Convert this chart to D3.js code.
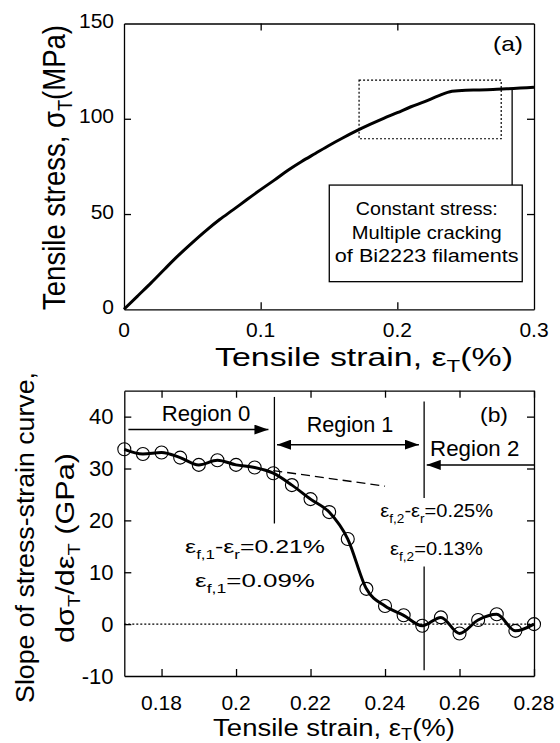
<!DOCTYPE html>
<html>
<head>
<meta charset="utf-8">
<script src="https://cdn.jsdelivr.net/npm/d3@7"></script>
<style>
  body { margin: 0; background: #fff; }
  svg { display: block; }
  text { font-family: "Liberation Sans", Arial, Helvetica, sans-serif; fill: #000; }
</style>
</head>
<body>
<svg id="fig" width="560" height="743"></svg>
<script>
// ---- (a) tensile stress–strain curve ----
const strainA = [0.00, 0.01, 0.02, 0.03, 0.04, 0.05, 0.06, 0.07, 0.08, 0.09, 0.10,
                 0.11, 0.12, 0.13, 0.14, 0.15, 0.16, 0.17, 0.18, 0.19, 0.20,
                 0.21, 0.22, 0.23, 0.24, 0.25, 0.26, 0.27, 0.28, 0.29, 0.30];
const stressA = [0, 7.0, 14.0, 21.3, 28.4, 35.0, 41.3, 47.1, 52.3, 57.6, 62.8,
                 67.8, 73.0, 77.6, 81.8, 86.0, 89.9, 93.6, 97.0, 100.2, 103.2,
                 106.3, 109.0, 112.0, 114.4, 115.0, 115.1, 115.3, 115.7, 116.1, 116.5];
const ticksAx = [0, 0.1, 0.2, 0.3];
const ticksAy = [0, 50, 100, 150];
const tickLabelsAx = ["0", "0.1", "0.2", "0.3"];
// dotted window enlarged in (b)  [strain0, strain1, stress0, stress1]
const windowA = [0.172, 0.276, 89.5, 120.3];
// call-out box [strain0, strain1, stress0, stress1] and its leader line [strain, stressTop]
const noteBoxA = [0.1502, 0.2914, 14.5, 65.2];
const leaderA = [0.284, 115.9];
const noteLinesA = ["Constant stress:", "Multiple cracking", "of Bi2223 filaments"];

// ---- (b) slope of the stress–strain curve ----
const strainB = [0.170, 0.175, 0.180, 0.185, 0.190, 0.195, 0.200, 0.205, 0.210, 0.215,
                 0.220, 0.225, 0.230, 0.235, 0.240, 0.245, 0.250, 0.255, 0.260, 0.265,
                 0.270, 0.275, 0.280];
const slopeB  = [33.7, 32.8, 33.1, 32.1, 30.7, 31.6, 30.7, 30.2, 29.1, 26.8,
                 24.1, 21.6, 16.4, 6.8, 3.5, 1.7, -0.3, 1.3, -1.8, 0.8,
                 1.9, -1.3, 0.0];
const ticksBx = [0.18, 0.20, 0.22, 0.24, 0.26, 0.28];
const tickLabelsBx = ["0.18", "0.2", "0.22", "0.24", "0.26", "0.28"];
const ticksBy = [-10, 0, 10, 20, 30, 40];
// extrapolated initial slope (dashed)
const trendB = [[0.210, 29.6], [0.240, 26.6]];
// region boundaries: [strain, [[top, bottom], ...segments]]
const boundB = [
  [0.2103, [[43.8, 19.4]]],
  [0.2505, [[42.9, 24.3], [11.1, -8.9]]]
];
// region arrows: [from, to, level, heads]
const arrowsB = [
  [0.1711, 0.2087, 37.5, "end"],
  [0.2110, 0.2491, 34.6, "both"],
  [0.2800, 0.2512, 30.7, "end"]
];

const svg = d3.select("#fig");
const stroke = "#000";

// helper: text made of plain/subscript runs, fitted to a given run length
function label(parent, runs, o) {
  const g = parent.append("g")
    .attr("transform", `translate(${o.x},${o.y})` + (o.rot ? " rotate(-90)" : ""));
  const inner = g.append("g");
  const t = inner.append("text")
    .attr("text-anchor", o.anchor || "middle")
    .attr("font-size", o.size);
  const sub = o.size * (o.subRatio || 0.66), shift = o.size * (o.shift || 0.24);
  let lowered = false;
  runs.forEach(r => {
    const isSub = Array.isArray(r);
    const s = isSub ? r[0] : r;
    const ts = t.append("tspan").text(s);
    if (isSub) {
      ts.attr("font-size", sub);
      if (!lowered) ts.attr("dy", shift);
      lowered = true;
    } else if (lowered) {
      ts.attr("dy", -shift);
      lowered = false;
    }
  });
  const sy = o.sy || 1;
  let sx = 1;
  if (o.width) sx = o.width / t.node().getBBox().width;
  inner.attr("transform", `scale(${sx},${sy})`);
  return g;
}

// ======== panel (a) ========
const A = { l: 124, r: 534, t: 23.5, b: 309.3 };
const xA = d3.scaleLinear().domain([0, 0.3]).range([A.l, A.r]);
const yA = d3.scaleLinear().domain([0, 150]).range([A.b, A.t]);
const gA = svg.append("g");

function frame(g, x, y, xt, yt, box) {
  const tick = 7;
  g.append("g").attr("transform", `translate(0,${box.b})`)
    .call(d3.axisBottom(x).tickValues(xt).tickSize(-tick).tickSizeOuter(0).tickFormat(""));
  g.append("g").attr("transform", `translate(0,${box.t})`)
    .call(d3.axisTop(x).tickValues(xt).tickSize(-tick).tickSizeOuter(0).tickFormat(""));
  g.append("g").attr("transform", `translate(${box.l},0)`)
    .call(d3.axisLeft(y).tickValues(yt).tickSize(-tick).tickSizeOuter(0).tickFormat(""));
  g.append("g").attr("transform", `translate(${box.r},0)`)
    .call(d3.axisRight(y).tickValues(yt).tickSize(-tick).tickSizeOuter(0).tickFormat(""));
  g.selectAll(".domain, .tick line").attr("stroke", stroke).attr("stroke-width", 1.3);
}
frame(gA, xA, yA, ticksAx.slice(1, 3), ticksAy.slice(1, 3), A);

// tick labels
ticksAx.forEach((v, i) => label(gA, [tickLabelsAx[i]], { x: xA(v), y: 336.5, size: 21 }));
ticksAy.forEach(v => label(gA, [String(v)], { x: 114, y: yA(v) + 4.5, size: 21, anchor: "end" }));

// axis titles
label(gA, ["Tensile strain, ε", ["T"], "(%)"], { x: 364, y: 366, size: 25, width: 298 });
label(gA, ["Tensile stress, σ", ["T"], "(MPa)"], { x: 65, y: 167.5, size: 27, rot: true, width: 285, sy: 1.15 });

// window box (dotted)
gA.append("rect")
  .attr("x", xA(windowA[0])).attr("y", yA(windowA[3]))
  .attr("width", xA(windowA[1]) - xA(windowA[0]))
  .attr("height", yA(windowA[2]) - yA(windowA[3]))
  .attr("fill", "none").attr("stroke", stroke).attr("stroke-width", 1.2)
  .attr("stroke-dasharray", "2,2");

// stress–strain curve
gA.append("path")
  .datum(strainA.map((s, i) => [s, stressA[i]]))
  .attr("fill", "none").attr("stroke", stroke).attr("stroke-width", 3)
  .attr("stroke-linejoin", "round")
  .attr("d", d3.line().x(d => xA(d[0])).y(d => yA(d[1])).curve(d3.curveMonotoneX));

// leader line and call-out box
gA.append("line")
  .attr("x1", xA(leaderA[0])).attr("x2", xA(leaderA[0]))
  .attr("y1", yA(leaderA[1])).attr("y2", yA(noteBoxA[3]))
  .attr("stroke", stroke).attr("stroke-width", 1.3);
gA.append("rect")
  .attr("x", xA(noteBoxA[0])).attr("y", yA(noteBoxA[3]))
  .attr("width", xA(noteBoxA[1]) - xA(noteBoxA[0]))
  .attr("height", yA(noteBoxA[2]) - yA(noteBoxA[3]))
  .attr("fill", "#fff").attr("stroke", stroke).attr("stroke-width", 1.3);
const noteCx = (xA(noteBoxA[0]) + xA(noteBoxA[1])) / 2 + 1;
const noteW = [142, 150, 184];
const noteY = [215, 238.5, 262];
noteLinesA.forEach((s, i) => label(gA, [s], { x: noteCx, y: noteY[i], size: 18.5, width: noteW[i] }));

label(gA, ["(a)"], { x: 508, y: 51, size: 21, width: 30 });

// ======== panel (b) ========
const B = { l: 124.3, r: 534, t: 390.7, b: 676 };
const xB = d3.scaleLinear().domain([0.17, 0.28]).range([B.l, B.r]);
const yB = d3.scaleLinear().domain([-10, 45]).range([B.b, B.t]);
const gB = svg.append("g");

frame(gB, xB, yB, ticksBx, ticksBy.slice(1), B);

ticksBx.forEach((v, i) => label(gB, [tickLabelsBx[i]], { x: xB(v), y: 710, size: 21 }));
ticksBy.forEach(v => label(gB, [String(v)], { x: 113.5, y: yB(v) + 7.5, size: 22, anchor: "end" }));

label(gB, ["Tensile strain, ε", ["T"], "(%)"], { x: 334, y: 736, size: 24, width: 242, shift: 0.18 });
label(gB, ["Slope of stress-strain curve,"], { x: 33.5, y: 537.5, size: 26, rot: true, width: 331 });
label(gB, ["dσ", ["T"], "/dε", ["T"], " (GPa)"], { x: 74, y: 548, size: 26, rot: true, width: 190 });

// zero line
gB.append("line")
  .attr("x1", B.l).attr("x2", B.r).attr("y1", yB(0)).attr("y2", yB(0))
  .attr("stroke", stroke).attr("stroke-width", 1.2).attr("stroke-dasharray", "2,2");

// region boundaries
boundB.forEach(([s, segs]) => segs.forEach(([a, b]) => {
  gB.append("line")
    .attr("x1", xB(s)).attr("x2", xB(s)).attr("y1", yB(a)).attr("y2", yB(b))
    .attr("stroke", stroke).attr("stroke-width", 1.3);
}));

// extrapolated trend (dashed)
gB.append("line")
  .attr("x1", xB(trendB[0][0])).attr("y1", yB(trendB[0][1]))
  .attr("x2", xB(trendB[1][0])).attr("y2", yB(trendB[1][1]))
  .attr("stroke", stroke).attr("stroke-width", 1.3).attr("stroke-dasharray", "9,5");

// region arrows
const defs = svg.append("defs");
defs.append("marker").attr("id", "head")
  .attr("viewBox", "0 0 14 10").attr("refX", 14).attr("refY", 5)
  .attr("markerWidth", 14).attr("markerHeight", 10)
  .attr("markerUnits", "userSpaceOnUse").attr("orient", "auto-start-reverse")
  .append("path").attr("d", "M0,0 L14,5 L0,10 Z").attr("fill", stroke);
arrowsB.forEach(([a, b, v, heads]) => {
  const ln = gB.append("line")
    .attr("x1", xB(a)).attr("x2", xB(b)).attr("y1", yB(v)).attr("y2", yB(v))
    .attr("stroke", stroke).attr("stroke-width", 1.5)
    .attr("marker-end", "url(#head)");
  if (heads === "both") ln.attr("marker-start", "url(#head)");
});

label(gB, ["Region 0"], { x: 206, y: 421, size: 22, width: 88.7 });
label(gB, ["Region 1"], { x: 350, y: 431.7, size: 22, width: 86.6 });
label(gB, ["Region 2"], { x: 474.7, y: 456, size: 22, width: 89.3 });
label(gB, ["(b)"], { x: 494, y: 421.5, size: 21, width: 28 });

const annoOpt = { size: 19, subRatio: 0.68, shift: 0.3 };
label(gB, ["ε", ["f,1"], "-ε", ["r"], "=0.21%"], { ...annoOpt, x: 255, y: 553, width: 140 });
label(gB, ["ε", ["f,1"], "=0.09%"], { ...annoOpt, x: 255, y: 587, width: 120 });
label(gB, ["ε", ["f,2"], "-ε", ["r"], "=0.25%"], { ...annoOpt, x: 436.7, y: 517, width: 113 });
label(gB, ["ε", ["f,2"], "=0.13%"], { ...annoOpt, x: 436.5, y: 555, width: 93 });

// slope curve and measured points
const ptsB = strainB.map((s, i) => [s, slopeB[i]]);
gB.append("path")
  .datum(ptsB)
  .attr("fill", "none").attr("stroke", stroke).attr("stroke-width", 3)
  .attr("stroke-linejoin", "round")
  .attr("d", d3.line().x(d => xB(d[0])).y(d => yB(d[1])).curve(d3.curveMonotoneX));
gB.selectAll("circle.pt").data(ptsB).join("circle")
  .attr("class", "pt")
  .attr("cx", d => xB(d[0])).attr("cy", d => yB(d[1])).attr("r", 6.5)
  .attr("fill", "none").attr("stroke", stroke).attr("stroke-width", 1.1);
</script>
</body>
</html>
